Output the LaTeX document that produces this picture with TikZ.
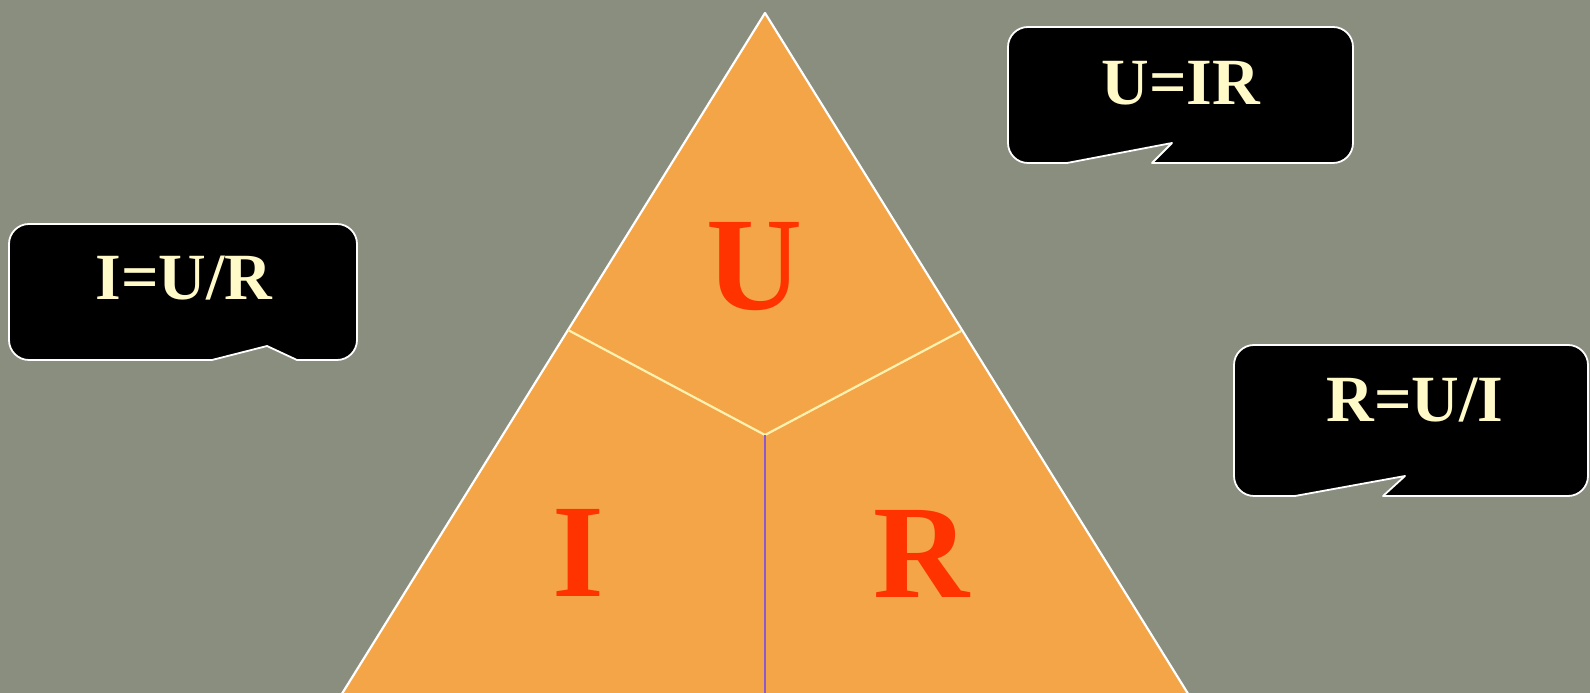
\documentclass[tikz,border=0pt]{standalone}
\usepackage{fontspec}
\setmainfont{Liberation Serif}
\definecolor{bg}{RGB}{137,142,127}
\definecolor{tri}{RGB}{243,165,71}
\definecolor{letter}{RGB}{255,51,0}
\definecolor{cream}{RGB}{255,250,200}
\definecolor{yline}{RGB}{255,242,176}
\definecolor{vline}{RGB}{140,90,205}
\tikzset{
  bubble/.style={fill=black,draw=white,line width=1.8pt,line join=round},
  bigletter/.style={text=letter,font=\fontsize{133}{136}\selectfont\bfseries,anchor=base,inner sep=0pt},
  formula/.style={text=cream,font=\fontsize{66}{70}\selectfont\bfseries,anchor=base,inner sep=0pt},
}
\begin{document}
\begin{tikzpicture}[x=1pt,y=1pt]
\useasboundingbox (0,0) rectangle (1590,693);
\clip (0,0) rectangle (1590,693);
\fill[bg] (0,0) rectangle (1590,693);
% triangle
\coordinate (apex) at (765,680);
\coordinate (bl) at (330,-20);
\coordinate (br) at (1200,-20);
\coordinate (ml) at (568,363);
\coordinate (mr) at (961,362);
\coordinate (ctr) at (765,258);
\coordinate (bot) at (765,-20);
\fill[tri] (apex) -- (bl) -- (br) -- cycle;
\draw[white,line width=2.2pt,line join=round] (bl) -- (apex) -- (br);
\draw[yline,line width=2.2pt] (ml) -- (ctr) -- (mr);
\draw[vline,line width=1.8pt] (ctr) -- (bot);
\node[bigletter] (U) at (755,383) {U};
\node[bigletter] (I) at (578,96) {I};
\node[bigletter] (R) at (922,95) {R};
% callout U=IR
\path[bubble] (1067,530) -- (1028,530) arc[start angle=270,end angle=180,radius=20pt]
  -- (1008,646) arc[start angle=180,end angle=90,radius=20pt]
  -- (1333,666) arc[start angle=90,end angle=0,radius=20pt]
  -- (1353,550) arc[start angle=0,end angle=-90,radius=20pt]
  -- (1152,530) -- (1172,550) -- cycle;
\node[formula] (f1) at (1181,588) {U=IR};
% callout I=U/R
\path[bubble] (212,333) -- (267,347) -- (297,333) -- (337,333)
  arc[start angle=-90,end angle=0,radius=20pt]
  -- (357,449) arc[start angle=0,end angle=90,radius=20pt]
  -- (29,469) arc[start angle=90,end angle=180,radius=20pt]
  -- (9,353) arc[start angle=180,end angle=270,radius=20pt] -- cycle;
\node[formula] (f2) at (184,393) {I=U/R};
% callout R=U/I
\path[bubble] (1295,197) -- (1254,197) arc[start angle=270,end angle=180,radius=20pt]
  -- (1234,328) arc[start angle=180,end angle=90,radius=20pt]
  -- (1568,348) arc[start angle=90,end angle=0,radius=20pt]
  -- (1588,217) arc[start angle=0,end angle=-90,radius=20pt]
  -- (1383,197) -- (1405,217) -- cycle;
\node[formula] (f3) at (1415,271) {R=U/I};
\end{tikzpicture}
\end{document}
